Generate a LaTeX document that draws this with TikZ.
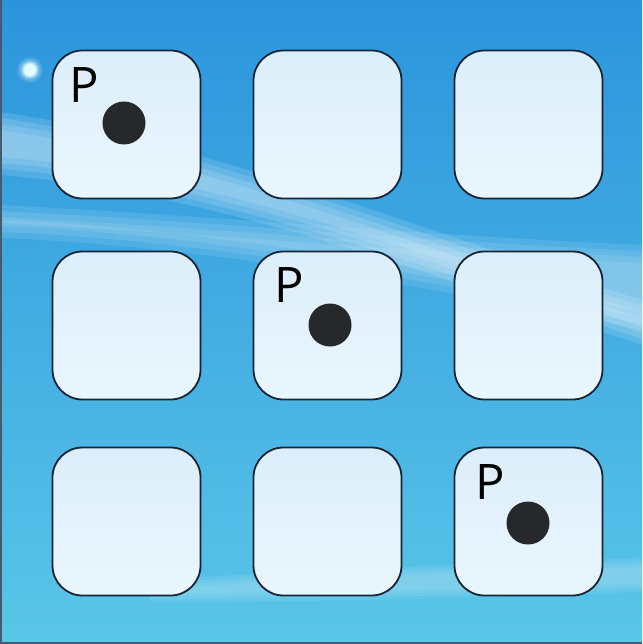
\documentclass[tikz,border=0pt]{standalone}
\usepackage{fontspec}
\setmainfont{Open Sans}
\usetikzlibrary{positioning}
\definecolor{bgtop}{RGB}{44,148,220}
\definecolor{bgbot}{RGB}{90,198,232}
\definecolor{tiletop}{RGB}{220,238,250}
\definecolor{tilebot}{RGB}{234,246,253}
\definecolor{tileedge}{RGB}{22,36,52}
\definecolor{dotc}{RGB}{38,40,44}
\definecolor{glow}{RGB}{225,252,255}
\tikzset{
  tile/.style={draw=tileedge, line width=1.8pt, top color=tiletop, bottom color=tilebot,
    rounded corners=30pt, minimum width=148pt, minimum height=148pt, inner sep=0pt},
  piece/.style={circle, fill=dotc, minimum size=43pt, inner sep=0pt},
  plabel/.style={font=\fontsize{49}{49}\selectfont, text=black, inner sep=0pt, anchor=base west},
  streak/.style={fill=white, draw=none}
}
\begin{document}
\begin{tikzpicture}[x=1pt,y=-1pt]
\useasboundingbox (0,0) rectangle (642,644);
% background
\shade[top color=bgtop, bottom color=bgbot] (0,0) rectangle (642,644);
% soft light streaks (layered)
\foreach \d in {0,6,12,18}{
\fill[streak, opacity=0.13] (0,112+\d) .. controls (200,140+\d) and (420,230+\d) .. (642,300+\d)
  -- (642,345-\d) .. controls (420,270-\d) and (200,190-\d) .. (0,175-\d) -- cycle;
\fill[streak, opacity=0.1] (0,205+\d) .. controls (200,215+\d) and (420,235+\d) .. (642,245+\d)
  -- (642,330-\d) .. controls (450,290-\d) and (200,245-\d) .. (0,238-\d) -- cycle;
\fill[streak, opacity=0.07] (150,580+\d/2) .. controls (350,568+\d/2) and (500,562+\d/2) .. (642,558+\d/2)
  -- (642,592-\d/2) .. controls (500,597-\d/2) and (350,602-\d/2) .. (150,602-\d/2) -- cycle;
}
% glow dot
\foreach \r/\o in {13/0.12,11/0.18,9/0.3,7.5/0.6,6/1}{
  \fill[glow, opacity=\o] (30,70) circle (\r pt);
}
% frame edges
\draw[line width=2pt, draw={rgb,255:red,70;green,90;blue,105}] (1,0) -- (1,643) -- (642,643);
% tiles
\node[tile] (t11) at (126.5,124.5) {};
\node[tile] (t12) at (327.5,124.5) {};
\node[tile] (t13) at (528.5,124.5) {};
\node[tile] (t21) at (126.5,325.5) {};
\node[tile] (t22) at (327.5,325.5) {};
\node[tile] (t23) at (528.5,325.5) {};
\node[tile] (t31) at (126.5,521.5) {};
\node[tile] (t32) at (327.5,521.5) {};
\node[tile] (t33) at (528.5,521.5) {};
% pieces
\node[piece] (d1) at (124,123) {};
\node[piece] (d2) at (330,325) {};
\node[piece] (d3) at (528,523) {};
% labels
\node[plabel] (p1) at (69,103) {P};
\node[plabel] (p2) at (274,302) {P};
\node[plabel] (p3) at (475,499) {P};
\end{tikzpicture}
\end{document}
